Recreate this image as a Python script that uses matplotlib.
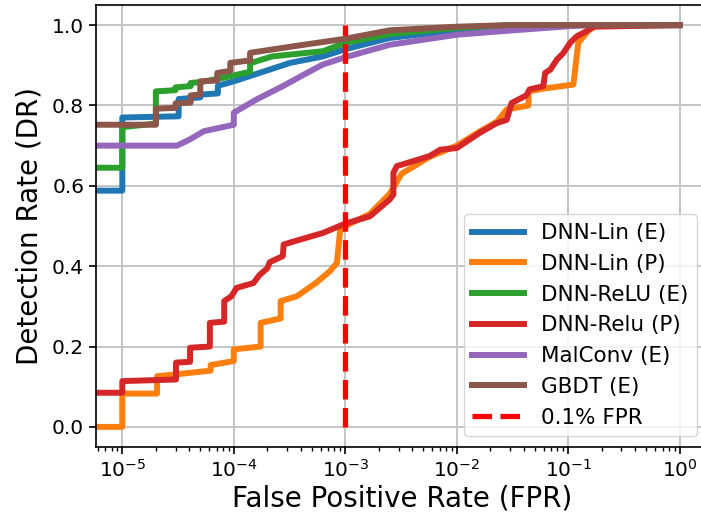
import numpy as np
import matplotlib
matplotlib.use('Agg')
import matplotlib.pyplot as plt

# ROC curves (fpr, tpr)
lin_e_fpr = [1e-6, 1.0e-5, 1.0e-5, 3.2e-5, 3.2e-5, 5.0e-5, 5.0e-5, 7.2e-5, 7.2e-5,
             1.0e-4, 3.2e-4, 6.3e-4, 1.0e-3, 2.5e-3, 1e-2, 3e-2, 9e-2, 1.0]
lin_e_tpr = [0.588, 0.588, 0.770, 0.773, 0.816, 0.820, 0.827, 0.830, 0.849,
             0.860, 0.906, 0.922, 0.940, 0.968, 0.987, 0.996, 1.0, 1.0]

lin_p_fpr = [1e-6, 1.0e-5, 1.0e-5, 2.05e-5, 2.05e-5, 6.2e-5, 6.2e-5, 1.0e-4, 1.0e-4,
             1.74e-4, 1.74e-4, 2.63e-4, 2.63e-4, 3.67e-4, 5.5e-4, 7.3e-4, 8.4e-4, 8.97e-4,
             1.0e-3, 1.66e-3, 2.5e-3, 3.2e-3, 5.7e-3, 1e-2, 1.6e-2, 2.3e-2, 2.8e-2,
             4.4e-2, 4.4e-2, 6e-2, 1.11e-1, 1.23e-1, 1.5e-1, 1.8e-1, 1.0]
lin_p_tpr = [0.0, 0.0, 0.083, 0.083, 0.126, 0.140, 0.154, 0.164, 0.193,
             0.200, 0.259, 0.270, 0.313, 0.325, 0.359, 0.388, 0.408, 0.487,
             0.500, 0.530, 0.580, 0.630, 0.672, 0.700, 0.735, 0.760, 0.790,
             0.800, 0.835, 0.842, 0.852, 0.956, 0.985, 1.0, 1.0]

relu_e_fpr = [1e-6, 1.0e-5, 1.0e-5, 2.0e-5, 2.0e-5, 3.0e-5, 3.0e-5, 4.1e-5, 4.1e-5,
              5.0e-5, 8.1e-5, 1.4e-4, 1.4e-4, 2.2e-4, 6.3e-4, 1.0e-3, 2.5e-3, 1e-2, 3e-2, 1.0]
relu_e_tpr = [0.645, 0.645, 0.746, 0.755, 0.835, 0.838, 0.845, 0.848, 0.856,
              0.858, 0.869, 0.884, 0.905, 0.922, 0.935, 0.956, 0.978, 0.993, 1.0, 1.0]

relu_p_fpr = [1e-6, 1.0e-5, 1.0e-5, 3.03e-5, 3.03e-5, 4.05e-5, 4.05e-5, 6.1e-5, 6.1e-5,
              8.2e-5, 8.2e-5, 9.5e-5, 1.06e-4, 1.5e-4, 1.7e-4, 2.0e-4, 2.1e-4, 2.75e-4,
              2.8e-4, 3.5e-4, 6.35e-4, 1.0e-3, 1.66e-3, 2.5e-3, 2.7e-3, 2.7e-3, 2.9e-3,
              5.7e-3, 7.1e-3, 1e-2, 1.61e-2, 2.28e-2, 2.8e-2, 3.1e-2, 4.2e-2, 4.5e-2,
              5.97e-2, 6.2e-2, 6.9e-2, 7.9e-2, 9.0e-2, 1.04e-1, 1.19e-1, 1.46e-1, 1.68e-1, 1.0]
relu_p_tpr = [0.085, 0.085, 0.114, 0.118, 0.160, 0.162, 0.197, 0.200, 0.259,
              0.262, 0.313, 0.325, 0.346, 0.358, 0.378, 0.395, 0.410, 0.425,
              0.454, 0.462, 0.483, 0.506, 0.524, 0.566, 0.578, 0.632, 0.649,
              0.674, 0.690, 0.694, 0.732, 0.756, 0.764, 0.806, 0.825, 0.840,
              0.848, 0.881, 0.889, 0.914, 0.930, 0.956, 0.972, 0.985, 0.996, 1.0]

malconv_fpr = [1e-6, 3.1e-5, 4.0e-5, 5.4e-5, 1.0e-4, 1.0e-4, 1.6e-4, 2.75e-4, 4.2e-4,
               6.3e-4, 1.0e-3, 2.5e-3, 1e-2, 3.2e-2, 1e-1, 1.5e-1, 1.0]
malconv_tpr = [0.700, 0.700, 0.715, 0.736, 0.752, 0.782, 0.815, 0.848, 0.876,
               0.902, 0.920, 0.951, 0.976, 0.987, 0.997, 1.0, 1.0]

gbdt_fpr = [1e-6, 2.0e-5, 2.0e-5, 3.0e-5, 3.0e-5, 4.1e-5, 4.1e-5, 5.0e-5, 5.0e-5,
            7.1e-5, 7.1e-5, 9.3e-5, 9.3e-5, 1.4e-4, 1.4e-4, 4.0e-4, 1.0e-3, 2.5e-3,
            1e-2, 3e-2, 1.0]
gbdt_tpr = [0.752, 0.752, 0.792, 0.794, 0.805, 0.807, 0.825, 0.827, 0.860,
            0.862, 0.881, 0.886, 0.906, 0.912, 0.931, 0.950, 0.966, 0.987,
            0.996, 1.0, 1.0]

curves = [
    ('DNN-Lin (E)', lin_e_fpr, lin_e_tpr),
    ('DNN-Lin (P)', lin_p_fpr, lin_p_tpr),
    ('DNN-ReLU (E)', relu_e_fpr, relu_e_tpr),
    ('DNN-Relu (P)', relu_p_fpr, relu_p_tpr),
    ('MalConv (E)', malconv_fpr, malconv_tpr),
    ('GBDT (E)', gbdt_fpr, gbdt_tpr),
]

fpr_threshold = 1e-3

fig = plt.figure(figsize=(7.01, 5.14), dpi=100)
# axes run past the right edge, as in the cropped original
ax = fig.add_axes([96 / 701, 67 / 514, 612 / 701, 442 / 514])

for label, fpr, tpr in curves:
    ax.plot(fpr, tpr, lw=4.3, label=label)
ax.plot([fpr_threshold, fpr_threshold], [0, 1], 'r--', lw=3.8, label='0.1% FPR')

ax.set_xscale('log')
ax.set_xlim(10 ** -5.236, 10 ** 0.253)
ax.set_ylim(-0.05, 1.05)
ax.grid(True, which='major', color='#c4c4c4', lw=1.4)
ax.tick_params(labelsize=14.5, width=1.2, length=5)
ax.tick_params(which='minor', width=1.0, length=3)
for s in ax.spines.values():
    s.set_linewidth(1.2)

ax.set_xlabel('False Positive Rate (FPR)', fontsize=20, labelpad=3)
ax.set_ylabel('Detection Rate (DR)', fontsize=20, labelpad=6)
ax.legend(loc='lower right', fontsize=15.5, handlelength=2.4)

fig.savefig('out.png', dpi=100)
